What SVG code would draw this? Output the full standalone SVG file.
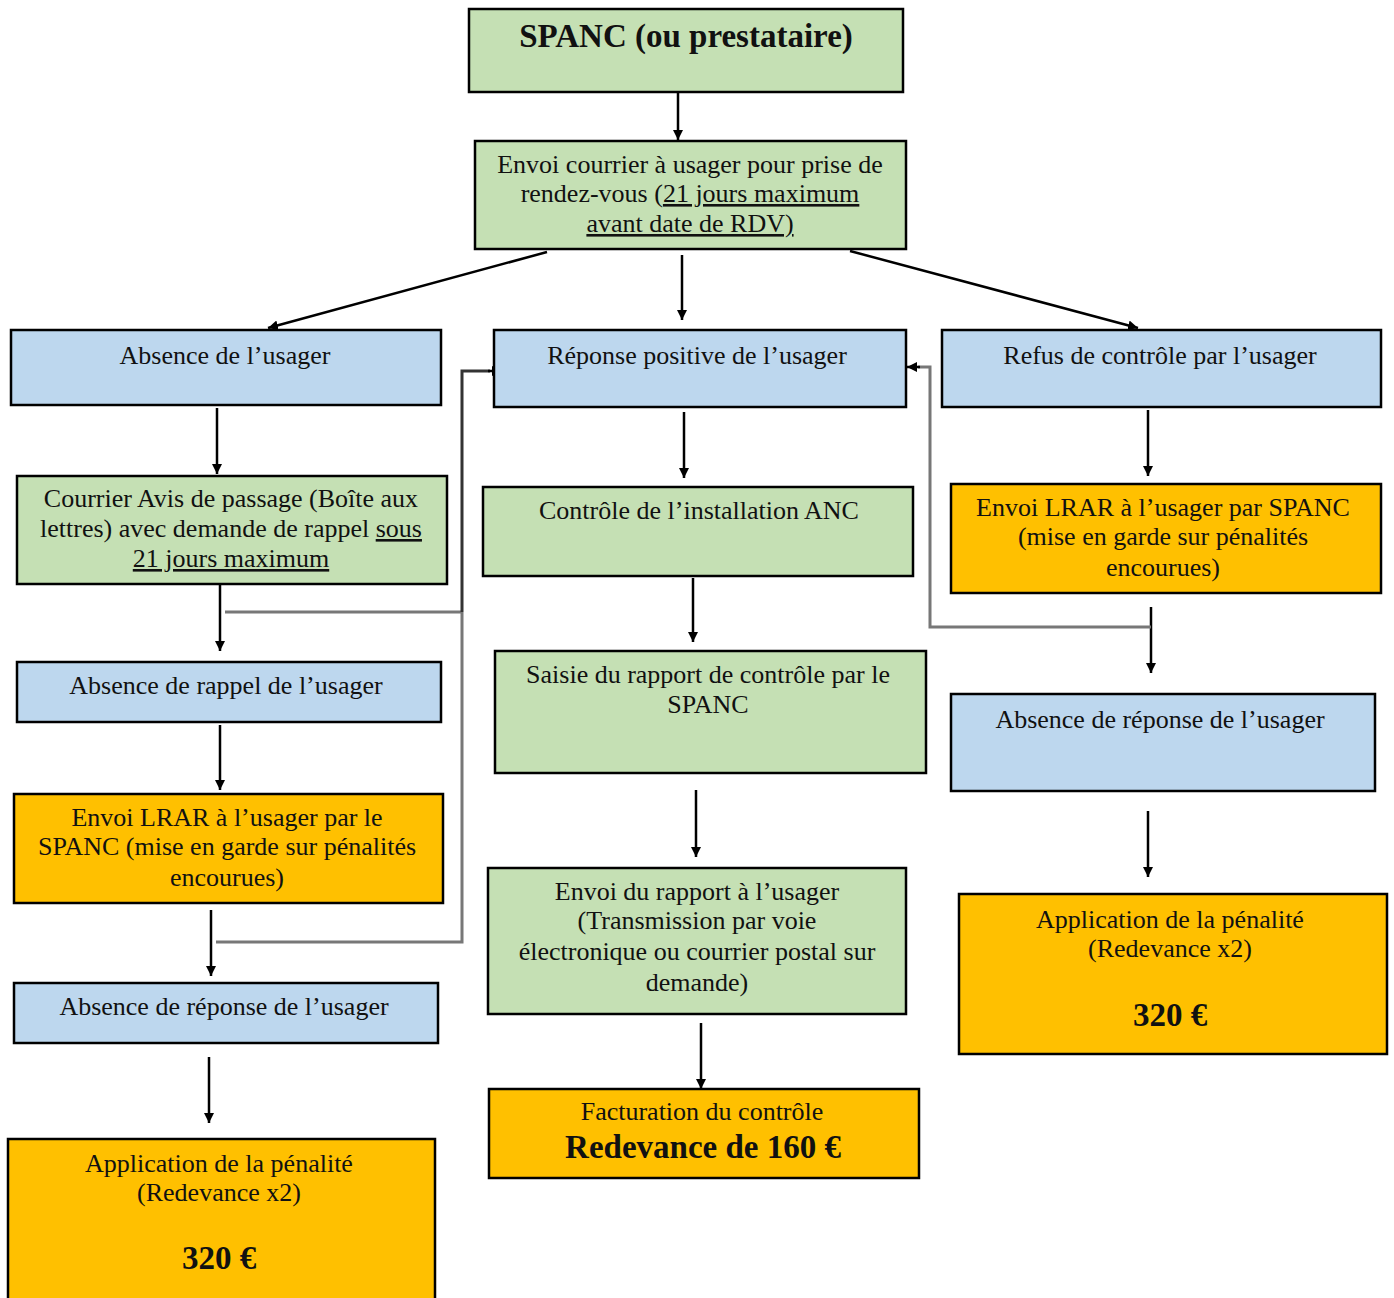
<svg xmlns="http://www.w3.org/2000/svg" width="1394" height="1298" viewBox="0 0 1394 1298">
<defs>
<style>
.box{stroke:#000;stroke-width:2.5}
.g{fill:#C5E0B4}.b{fill:#BDD7EE}.o{fill:#FFC000}
text{font-family:"Liberation Serif","DejaVu Serif",serif;font-weight:normal;font-style:normal;font-size:26px;fill:#111;text-anchor:middle}
text.big{font-size:33px;font-weight:bold}
.u{text-decoration:underline}
.c{fill:none;stroke:#000;stroke-width:2.5}
.gr{fill:none;stroke:#777;stroke-width:3}
.dk{fill:none;stroke:#333;stroke-width:3}
</style>
<marker id="ah" markerWidth="12" markerHeight="10" refX="10" refY="5" orient="auto" markerUnits="userSpaceOnUse"><path d="M0,0 L10,5 L0,10 z" fill="#000"/></marker>
</defs>
<rect width="1394" height="1298" fill="#fff"/>

<g id="connectors">
<line class="c" x1="678" y1="93" x2="678" y2="140" marker-end="url(#ah)"/>
<line class="c" x1="547" y1="252" x2="268" y2="328" marker-end="url(#ah)"/>
<line class="c" x1="682" y1="255" x2="682" y2="320" marker-end="url(#ah)"/>
<line class="c" x1="850" y1="251" x2="1138" y2="328" marker-end="url(#ah)"/>
<line class="c" x1="217" y1="408" x2="217" y2="474" marker-end="url(#ah)"/>
<line class="c" x1="220" y1="585" x2="220" y2="651" marker-end="url(#ah)"/>
<line class="c" x1="220" y1="725" x2="220" y2="790" marker-end="url(#ah)"/>
<line class="c" x1="211" y1="910" x2="211" y2="976" marker-end="url(#ah)"/>
<line class="c" x1="209" y1="1057" x2="209" y2="1123" marker-end="url(#ah)"/>
<line class="c" x1="684" y1="412" x2="684" y2="478" marker-end="url(#ah)"/>
<line class="c" x1="693" y1="578" x2="693" y2="642" marker-end="url(#ah)"/>
<line class="c" x1="696" y1="790" x2="696" y2="857" marker-end="url(#ah)"/>
<line class="c" x1="701" y1="1023" x2="701" y2="1089" marker-end="url(#ah)"/>
<line class="c" x1="1148" y1="410" x2="1148" y2="476" marker-end="url(#ah)"/>
<line class="c" x1="1151" y1="607" x2="1151" y2="673" marker-end="url(#ah)"/>
<line class="c" x1="1148" y1="811" x2="1148" y2="877" marker-end="url(#ah)"/>
<path class="gr" d="M225,612 H462"/>
<path class="gr" d="M216,942 H462 V612"/>
<path class="dk" d="M462,612 V371 H490"/>
<line class="c" x1="488" y1="371" x2="502" y2="371" marker-end="url(#ah)"/>
<path class="gr" d="M1151,627 H930 V367 H918"/>
<line class="c" x1="920" y1="367" x2="907" y2="367" marker-end="url(#ah)"/>
</g>

<g id="n1"><rect class="box g" x="469" y="9" width="434" height="83"/><text class="big" x="686" y="47">SPANC (ou prestataire)</text></g>
<g id="n2"><rect class="box g" x="475" y="141" width="431" height="108"/>
<text x="690" y="173">Envoi courrier à usager pour prise de</text>
<text x="690" y="202">rendez-vous (<tspan class="u">21 jours maximum</tspan></text>
<text x="690" y="232"><tspan class="u">avant date de RDV)</tspan></text></g>
<g id="n3"><rect class="box b" x="11" y="330" width="430" height="75"/><text x="225" y="364">Absence de l’usager</text></g>
<g id="n4"><rect class="box b" x="494" y="330" width="412" height="77"/><text x="697" y="364">Réponse positive de l’usager</text></g>
<g id="n5"><rect class="box b" x="942" y="330" width="439" height="77"/><text x="1160" y="364">Refus de contrôle par l’usager</text></g>
<g id="n6"><rect class="box g" x="17" y="476" width="430" height="108"/>
<text x="231" y="507">Courrier Avis de passage (Boîte aux</text>
<text x="231" y="537">lettres) avec demande de rappel <tspan class="u">sous</tspan></text>
<text x="231" y="567"><tspan class="u">21 jours maximum</tspan></text></g>
<g id="n7"><rect class="box g" x="483" y="487" width="430" height="89"/><text x="699" y="519">Contrôle de l’installation ANC</text></g>
<g id="n8"><rect class="box o" x="951" y="484" width="430" height="109"/>
<text x="1163" y="516">Envoi LRAR à l’usager par SPANC</text>
<text x="1163" y="545">(mise en garde sur pénalités</text>
<text x="1163" y="576">encourues)</text></g>
<g id="n9"><rect class="box b" x="17" y="662" width="424" height="60"/><text x="226" y="694">Absence de rappel de l’usager</text></g>
<g id="n10"><rect class="box g" x="495" y="651" width="431" height="122"/>
<text x="708" y="683">Saisie du rapport de contrôle par le</text>
<text x="708" y="713">SPANC</text></g>
<g id="n11"><rect class="box b" x="951" y="694" width="424" height="97"/><text x="1160" y="728">Absence de réponse de l’usager</text></g>
<g id="n12"><rect class="box o" x="14" y="794" width="429" height="109"/>
<text x="227" y="826">Envoi LRAR à l’usager par le</text>
<text x="227" y="855">SPANC (mise en garde sur pénalités</text>
<text x="227" y="886">encourues)</text></g>
<g id="n13"><rect class="box g" x="488" y="868" width="418" height="146"/>
<text x="697" y="900">Envoi du rapport à l’usager</text>
<text x="697" y="929">(Transmission par voie</text>
<text x="697" y="960">électronique ou courrier postal sur</text>
<text x="697" y="991">demande)</text></g>
<g id="n14"><rect class="box o" x="959" y="894" width="428" height="160"/>
<text x="1170" y="928">Application de la pénalité</text>
<text x="1170" y="957">(Redevance x2)</text>
<text class="big" x="1170" y="1026">320 €</text></g>
<g id="n15"><rect class="box b" x="14" y="983" width="424" height="60"/><text x="224" y="1015">Absence de réponse de l’usager</text></g>
<g id="n16"><rect class="box o" x="489" y="1089" width="430" height="89"/>
<text x="702" y="1120">Facturation du contrôle</text>
<text class="big" x="703" y="1158">Redevance de 160 €</text></g>
<g id="n17"><rect class="box o" x="8" y="1139" width="427" height="170"/>
<text x="219" y="1172">Application de la pénalité</text>
<text x="219" y="1201">(Redevance x2)</text>
<text class="big" x="219" y="1269">320 €</text></g>
</svg>
